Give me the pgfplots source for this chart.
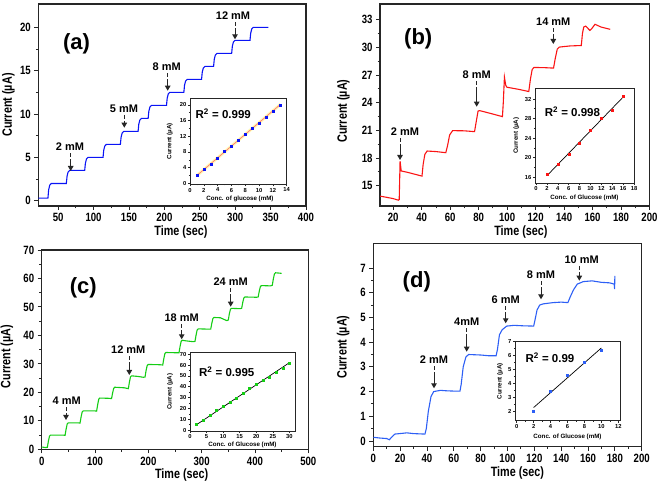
\documentclass[border=0pt]{standalone}
\usepackage{fontspec}
\setmainfont{Liberation Sans}
\newfontfamily\narrowfont{Liberation Sans}[FakeStretch=0.8]
\usepackage{pgfplots}
\pgfplotsset{compat=1.18}
\usetikzlibrary{arrows.meta}

\definecolor{tracea}{RGB}{10,20,245}
\definecolor{traceb}{RGB}{250,20,20}
\definecolor{tracec}{RGB}{20,205,20}
\definecolor{traced}{RGB}{45,95,245}

\pgfplotsset{
  mainax/.style={
    scale only axis, anchor=south west,
    axis line style={line width=1.1pt, black!85},
    tick style={line width=0.9pt, black!85},
    major tick length=4pt, minor tick length=2.5pt,
    tick align=outside, tick pos=left,
    minor x tick num=1, minor y tick num=1,
    /pgf/number format/assume math mode=true,
    tick label style={font=\narrowfont\bfseries\fontsize{12}{12}\selectfont},
    label style={font=\narrowfont\bfseries\fontsize{13.5}{14}\selectfont},
    xlabel style={anchor=center}, ylabel style={anchor=center},
  },
  inax/.style={
    scale only axis, anchor=south west,
    axis background/.style={fill=white},
    axis line style={line width=0.7pt, black!85},
    tick style={line width=0.6pt, black!85},
    major tick length=2pt, minor tick length=1.2pt,
    tick align=outside, tick pos=left,
    minor x tick num=1, minor y tick num=1,
    /pgf/number format/assume math mode=true,
    tick label style={font=\bfseries\fontsize{5.8}{6}\selectfont, inner sep=1.5pt},
    label style={font=\bfseries\fontsize{6.2}{6.5}\selectfont, inner sep=1pt},
    xlabel style={anchor=center}, ylabel style={anchor=center},
  },
}

% text x, text y (image px from top), arrow x, tip y (image px from top), label
\newcommand\conc[5]{%
  \node[font=\bfseries\fontsize{11}{11}\selectfont] at ({#1pt},{(484-#2)*1pt}) {#5};
  \draw[line width=1pt, black!85] ({#3pt},{(484-#2-6.5)*1pt}) -- ({#3pt},{(484-#2-10.5)*1pt});
  \draw[line width=1pt, black!85, -{Triangle[length=5pt,width=5.5pt]}] ({#3pt},{(484-#2-12.5)*1pt}) -- ({#3pt},{(484-#4)*1pt});
}
\newcommand\panel{\bfseries\fontsize{22}{22}\selectfont}
\newcommand\rsq{\bfseries\fontsize{11.5}{12}\selectfont}

\begin{document}
\begin{tikzpicture}
\path[use as bounding box] (0pt,0pt) rectangle (661pt,484pt);

% ---------------- (a)
\begin{axis}[mainax, at={(38.3pt,278pt)}, width=267.7pt, height=202pt,
  xmin=22, xmax=400, ymin=-0.6, ymax=22.7,
  xtick={50,100,...,400}, ytick={0,5,...,20},
  xlabel={Time (sec)}, ylabel={Current (µA)},
  xlabel style={at={(axis description cs:0.533,-0.13)}},
  ylabel style={at={(axis description cs:-0.112,0.5)}}]
\addplot[tracea, line width=1.1pt] coordinates {
(22,0.3) (35.6,0.3)
(36.6,1.25) (38.1,1.8) (40.3,2.0) (61.6,2.0)
(62.6,2.83) (64.1,3.32) (66.3,3.5) (87.5,3.5)
(88.5,4.33) (90,4.82) (92,5.0) (113.4,5.0)
(114.4,5.83) (115.9,6.32) (118,6.5) (137.9,6.5)
(138.9,7.33) (140.4,7.82) (142.6,8.0) (162.9,8.0)
(163.9,8.83) (165.4,9.32) (167.6,9.5) (177.1,9.5)
(178.1,10.33) (179.6,10.82) (181.8,11.0) (203,11.0)
(204,11.83) (205.5,12.32) (207.5,12.5) (227.5,12.5)
(228.5,13.33) (230,13.82) (232.2,14.0) (252.5,14.0)
(253.5,14.83) (255,15.32) (257.2,15.5) (269.5,15.5)
(270.5,16.33) (272,16.82) (274.2,17.0) (295,17.0)
(296,17.83) (297.5,18.32) (299.7,18.5) (320.9,18.5)
(321.9,19.33) (323.4,19.82) (325.6,20.0) (346.8,20.0)};
\node[font=\panel] at (rel axis cs:0.143,0.805) {(a)};
\end{axis}

\begin{axis}[inax, at={(190pt,299.7pt)}, width=96.7pt, height=86pt,
  xmin=0, xmax=14, ymin=-0.25, ymax=21.7,
  xtick={0,2,...,14}, ytick={0,4,...,20},
  xlabel={Conc. of glucose (mM)}, ylabel={Current (µA)},
  xlabel style={at={(axis description cs:0.517,-0.165)}},
  ylabel style={at={(axis description cs:-0.21,0.5)}}]
\addplot[fill=yellow!30, draw=none, forget plot] coordinates {(1,1.5) (13,19.5) (13,20.5) (1,2.5)} -- cycle;
\addplot[red!55!white, line width=0.7pt] coordinates {(1,2.0) (13,20.0)};
\addplot[only marks, mark=square*, mark size=1pt, tracea] coordinates {
(1,2.0) (2,3.5) (3,5.0) (4,6.4) (5,8.1) (6,9.4) (7,11.0) (8,12.5) (9,14.0) (10,15.4) (11,17.0) (12,18.5) (13,20.0)};
\node[font=\rsq] at (rel axis cs:0.344,0.817) {R\textsuperscript{2} = 0.999};
\end{axis}

% ---------------- (b)
\begin{axis}[mainax, at={(380pt,278pt)}, width=269.5pt, height=202pt,
  xmin=10.7, xmax=200, ymin=12.8, ymax=34.7,
  xtick={20,40,...,200}, ytick={15,18,...,33},
  xlabel={Time (sec)}, ylabel={Current (µA)},
  xlabel style={at={(axis description cs:0.523,-0.13)}},
  ylabel style={at={(axis description cs:-0.136,0.47)}}]
\addplot[traceb, line width=1.1pt] coordinates {
(10.7,13.87) (15,13.75) (20,13.6) (23.6,13.43) (24.2,13.5) (24.8,17.67) (25.6,16.6)
(30,16.45) (35,16.25) (40.2,16.04) (41,17.3) (42.2,18.4) (43.8,18.76) (50,18.7)
(56.9,18.58) (58.1,19.3) (59.6,20.5) (61.7,20.97) (70,20.95) (77.1,20.86)
(78.8,22.4) (79.6,23.1) (80.7,23.14) (88,22.85) (96.7,22.49) (97.3,24.0)
(98.1,26.77) (99,25.9) (99.8,25.68) (108,25.45) (115.2,25.21) (116.4,26.6)
(117.6,27.6) (118.8,27.82) (126,27.8) (132.6,27.75) (133.8,28.8) (135.2,29.8)
(136.7,30.03) (144,30.15) (152.1,30.2) (152.9,31.5) (153.8,32.2) (155.2,32.3)
(158.1,31.84) (159.3,32.0) (161.7,32.5) (166,32.2) (172.4,31.95)};
\node[font=\panel] at (rel axis cs:0.142,0.83) {(b)};
\end{axis}

\begin{axis}[inax, at={(535pt,301pt)}, width=99pt, height=94.7pt,
  xmin=-0.2, xmax=18, ymin=14.8, ymax=34.2,
  xtick={0,2,...,18}, ytick={16,20,...,32},
  xlabel={Conc. of Glucose (mM)}, ylabel={Current (µA)},
  xlabel style={at={(axis description cs:0.5,-0.158)}},
  ylabel style={at={(axis description cs:-0.19,0.5)}}]
\addplot[black, line width=0.7pt] coordinates {(2,16.3) (16,32.4)};
\addplot[only marks, mark=square*, mark size=1pt, traceb] coordinates {
(2,16.5) (4,18.7) (6,20.8) (8,23.0) (10,25.7) (12,28.0) (14,29.8) (16,32.5)};
\node[font=\rsq] at (rel axis cs:0.378,0.753) {R\textsuperscript{2} = 0.998};
\end{axis}

% ---------------- (c)
\begin{axis}[mainax, at={(41.7pt,34.7pt)}, width=266.6pt, height=199.3pt,
  xmin=0, xmax=500, ymin=0, ymax=70,
  xtick={0,100,...,500}, ytick={0,10,...,70},
  xlabel={Time (sec)}, ylabel={Current (µA)},
  xlabel style={at={(axis description cs:0.525,-0.131)}},
  ylabel style={at={(axis description cs:-0.131,0.466)}}]
\addplot[tracec, line width=1.1pt] coordinates {
(0,0.8) (8,0.6) (10.6,0.7) (12.6,2.9) (14.6,4.6) (16.6,5.0) (40,5.0)
(43.8,4.9) (45.8,7.1) (47.8,8.9) (49.8,9.3) (68,9.3)
(71.9,9.2) (73.9,11.4) (75.9,13.1) (77.9,13.5) (99,13.5)
(103,13.4) (105,15.7) (107,17.6) (109,18.0) (127,17.9)
(131,17.8) (133,19.8) (135,21.4) (137,21.8) (155,21.6)
(162.5,21.3) (164.5,23.6) (166.5,25.4) (168.5,25.8) (180,25.6)
(190.6,25.3) (193.8,25.4) (195.8,27.7) (197.8,29.4) (199.8,29.8) (222,29.7)
(227,29.6) (229,31.8) (231,33.6) (233,34.0) (254,33.9)
(257.5,33.9) (259.5,36.1) (261.5,37.9) (263.5,38.3) (270,38.1) (284,37.8)
(287.5,37.9) (289.5,40.1) (291.5,41.9) (293.5,42.3) (314,42.2)
(317,42.2) (319,44.2) (321,45.9) (323,46.3) (335,46.2) (347,45.2)
(350,45.4) (352,47.7) (354,49.2) (356,49.5) (372,49.4)
(375,49.5) (377,51.5) (379,53.1) (381,53.5) (403,53.4)
(406,53.5) (408,55.5) (410,57.1) (412,57.5) (429,57.4)
(432.5,57.6) (434.5,59.9) (436.5,61.6) (438.5,62.0) (450,61.8)};
\node[font=\panel] at (rel axis cs:0.156,0.808) {(c)};
\end{axis}

\begin{axis}[inax, at={(190pt,53pt)}, width=105pt, height=78.7pt,
  xmin=0, xmax=31.7, ymin=-0.9, ymax=71.9,
  xtick={0,5,...,30}, ytick={0,10,...,70},
  xlabel={Conc. of Glucose (mM)}, ylabel={Current (µA)},
  xlabel style={at={(axis description cs:0.5,-0.18)}},
  ylabel style={at={(axis description cs:-0.19,0.5)}}]
\addplot[black, line width=0.7pt] coordinates {(2,5.0) (30,62.3)};
\addplot[only marks, mark=square*, mark size=1pt, tracec] coordinates {
(2,5.5) (4,9.0) (6,13.8) (8,18.2) (10,21.8) (12,25.8) (14,29.8) (16,34.0)
(18,38.3) (20,42.5) (22,46.3) (24,49.0) (26,53.3) (28,57.2) (30,62.0)};
\node[font=\rsq] at (rel axis cs:0.35,0.753) {R\textsuperscript{2} = 0.995};
\end{axis}

% ---------------- (d)
\begin{axis}[mainax, at={(373.3pt,37.3pt)}, width=268.4pt, height=203.4pt,
  xmin=0, xmax=200, ymin=-0.23, ymax=8,
  xtick={0,20,...,200}, ytick={0,1,...,7},
  xlabel={Time (sec)}, ylabel={Current (µA)},
  xlabel style={at={(axis description cs:0.537,-0.127)}},
  ylabel style={at={(axis description cs:-0.112,0.49)}}]
\addplot[traced, line width=1.1pt] coordinates {
(0,0.15) (5,0.12) (10,0.1) (12,0.05) (13,0.12) (16,0.28) (25,0.33) (30,0.3)
(38.5,0.28) (39.5,0.5) (41,1.2) (43,1.8) (45,2.0) (50,2.05) (55,2.03) (60,2.02)
(64.6,2.02) (65.5,2.3) (67,3.0) (69,3.4) (71,3.5) (80,3.48) (86,3.45) (91.5,3.45)
(92.5,3.7) (94,4.3) (96,4.5) (99.4,4.65) (105,4.68) (112,4.66) (119.5,4.65)
(120.5,4.9) (122,5.3) (124,5.5) (126.7,5.55) (134,5.6) (140,5.62) (145,5.6)
(146.5,5.8) (149,6.1) (152,6.35) (156.5,6.45) (163,6.48) (170,6.42) (176,6.4)
(179.5,6.35) (179.8,6.15) (180,6.68)};
\node[font=\panel] at (rel axis cs:0.162,0.811) {(d)};
\end{axis}

\begin{axis}[inax, at={(515pt,63.3pt)}, width=105pt, height=79pt,
  xmin=-0.2, xmax=12.2, ymin=1.3, ymax=7,
  xtick={0,2,...,12}, ytick={2,3,...,7},
  xlabel={Conc. of Glucose (mM)}, ylabel={Current (µA)},
  xlabel style={at={(axis description cs:0.5,-0.205)}},
  ylabel style={at={(axis description cs:-0.143,0.5)}}]
\addplot[black, line width=0.7pt] coordinates {(2,2.25) (10,6.55)};
\addplot[only marks, mark=square*, mark size=1pt, traced] coordinates {
(2,2.0) (4,3.45) (6,4.6) (8,5.5) (10,6.4)};
\node[font=\rsq] at (rel axis cs:0.333,0.80) {R\textsuperscript{2} = 0.99};
\end{axis}

% ---------------- concentration arrows
\conc{70}{146.7}{70.7}{171}{2 mM}
\conc{124}{108.3}{124.3}{127.7}{5 mM}
\conc{166.7}{66.7}{167.7}{90.7}{8 mM}
\conc{233}{15.7}{235}{39.3}{12 mM}

\conc{405}{131.7}{400}{160}{2 mM}
\conc{476.7}{75}{476.7}{106.7}{8 mM}
\conc{553.3}{21.7}{553.3}{44}{14 mM}

\conc{66.7}{401}{66}{420}{4 mM}
\conc{128.3}{350}{129.3}{375}{12 mM}
\conc{181.7}{317.3}{181.7}{339.3}{18 mM}
\conc{230.7}{281.7}{230.7}{306.7}{24 mM}

\conc{434}{360}{434}{388.3}{2 mM}
\conc{466.7}{321.7}{466.7}{351.7}{4mM}
\conc{505.7}{299.3}{505.7}{323.3}{6 mM}
\conc{541}{275}{541}{299.3}{8 mM}
\conc{581.7}{259.3}{579.3}{280.7}{10 mM}
\end{tikzpicture}
\end{document}
